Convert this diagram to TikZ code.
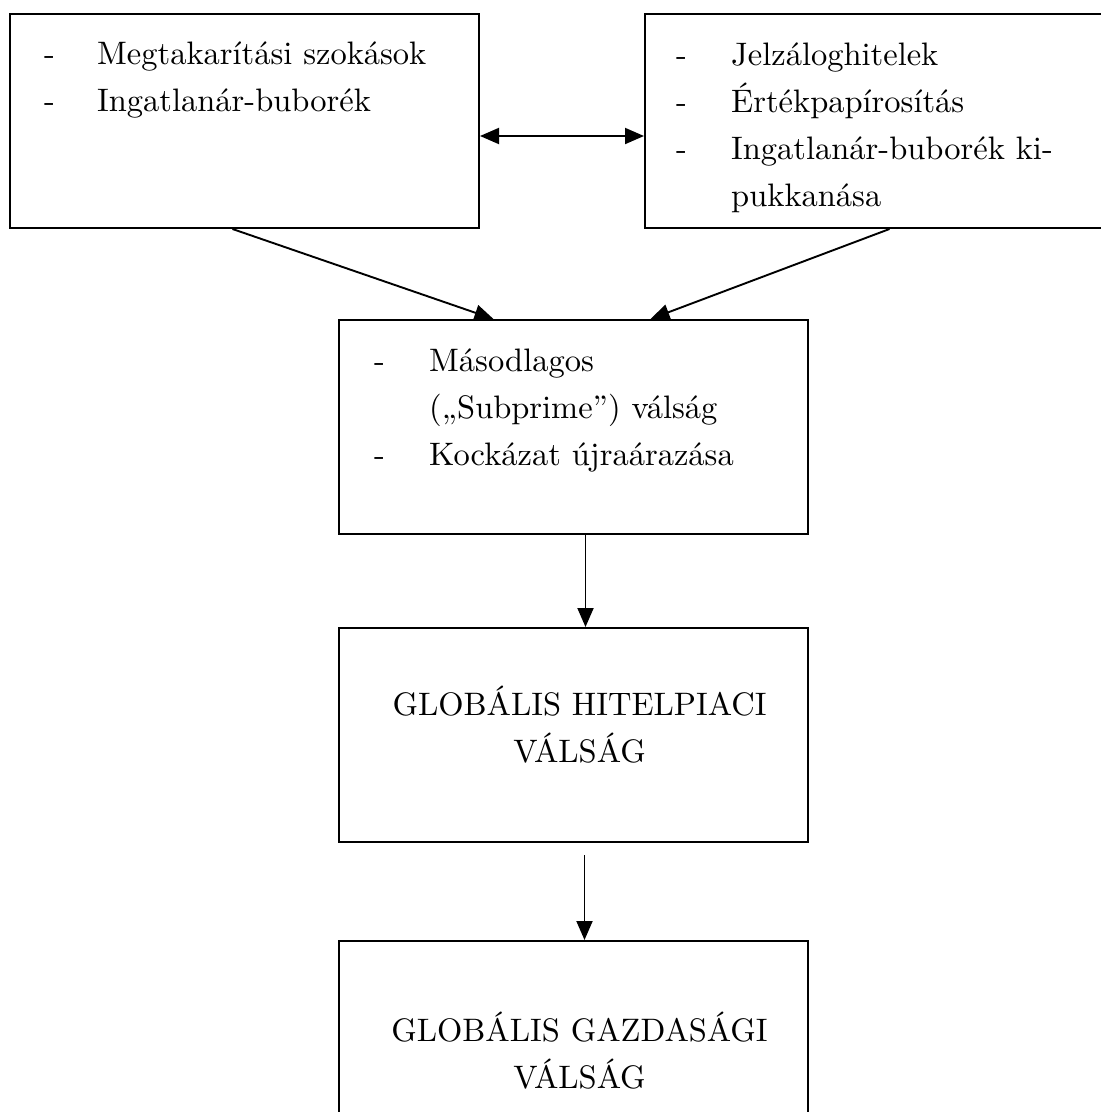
\documentclass[tikz,border=0pt]{standalone}
\usepackage{fontspec}
\setmainfont{lmroman10-regular.otf}
\usetikzlibrary{positioning,arrows.meta}

\begin{document}
\begin{tikzpicture}[
    x=1pt, y=1pt,
    font=\fontsize{32.5}{47}\selectfont,
    box/.style={draw, line width=2pt, minimum width=469pt, minimum height=214pt,
                inner sep=0pt},
    list/.style={anchor=base west, inner sep=0pt},
    title/.style={align=center, inner sep=0pt},
    arr/.style={-{Triangle[length=19pt, width=16pt]}, line width=1.9pt},
    dbl/.style={{Triangle[length=19pt, width=16pt]}-{Triangle[length=19pt, width=16pt]}, line width=1.9pt},
  ]
    \path[use as bounding box, fill=white] (0,0) rectangle (1101,-1112);
    \clip (0,0) rectangle (1101,-1112);

    % Top row: causes
    \node[box] (savings) at (244.5,-121) {};
    \node[box, right=164pt of savings] (mortgage) {};

    % Subprime crisis
    \node[box] (subprime) at (573.5,-427) {};

    % Global crises (bottom)
    \node[box, below=92pt of subprime] (credit) {};
    \node[box, below=97pt of credit] (economy) {};

    % Box contents
    \node[list] (savingslist) at ([shift={(35pt,-51pt)}]savings.north west)
        {\begin{tabular}[t]{@{}p{53pt}@{}l@{}}
           - & Megtakarítási szokások\\
           - & Ingatlanár-buborék
         \end{tabular}};
    \node[list] (mortgagelist) at ([shift={(32pt,-52pt)}]mortgage.north west)
        {\begin{tabular}[t]{@{}p{55pt}@{}l@{}}
           - & Jelzáloghitelek\\
           - & Értékpapírosítás\\
           - & Ingatlanár-buborék ki-\\
             & pukkanása
         \end{tabular}};
    \node[list] (subprimelist) at ([shift={(36pt,-52pt)}]subprime.north west)
        {\begin{tabular}[t]{@{}p{55pt}@{}l@{}}
           - & Másodlagos\\
             & („Subprime”) válság\\
           - & Kockázat újraárazása
         \end{tabular}};
    \node[title] (credittitle) at ([shift={(6pt,10pt)}]credit.center)
        {GLOB\'ALIS HITELPIACI\\V\'ALS\'AG};
    \node[title] (economytitle) at ([shift={(6pt,-3pt)}]economy.center)
        {GLOB\'ALIS GAZDAS\'AGI\\V\'ALS\'AG};

    % Edges
    \draw[dbl] ([yshift=-15pt]savings.east) -- ([yshift=-15pt]mortgage.west);
    \draw[arr] ([xshift=-12pt]savings.south) -- ([xshift=-80pt]subprime.north);
    \draw[arr] ([xshift=10pt]mortgage.south) -- ([xshift=77pt]subprime.north);
    \draw[arr] ([xshift=12pt]subprime.south) -- ([xshift=12pt]credit.north);
    \draw[arr] ([xshift=11pt,yshift=-12pt]credit.south) -- ([xshift=11pt]economy.north);
  \end{tikzpicture}
\end{document}
